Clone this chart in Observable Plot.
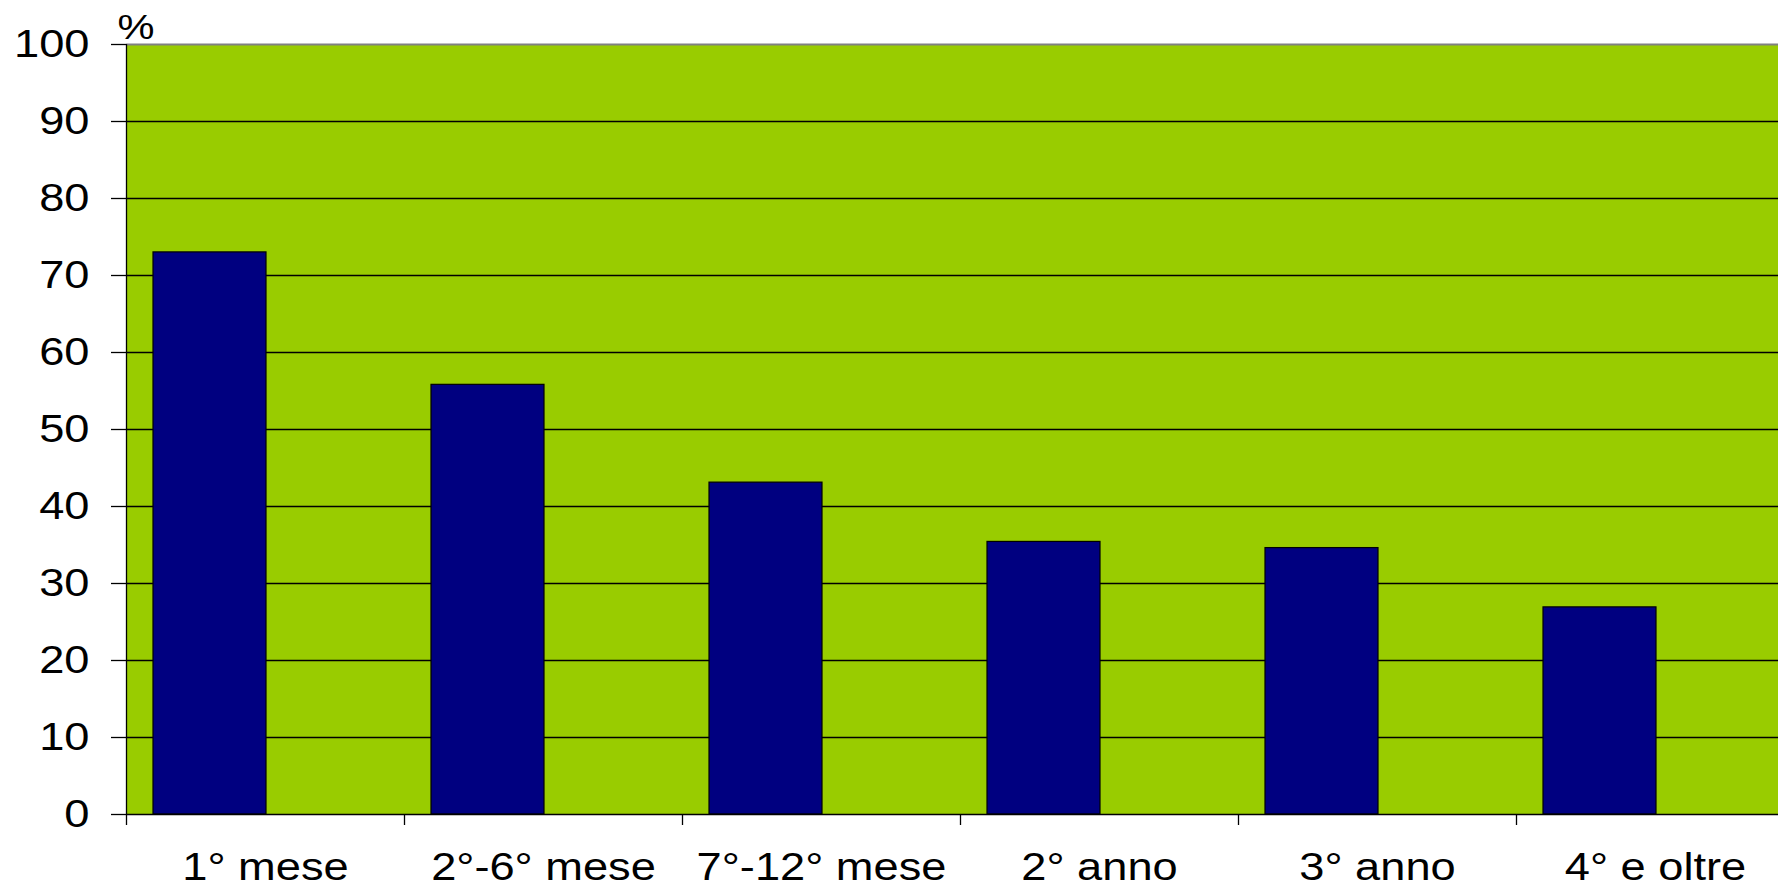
<!DOCTYPE html>
<html>
<head>
<meta charset="utf-8">
<script src="https://cdn.jsdelivr.net/npm/d3@7"></script>
<script src="https://cdn.jsdelivr.net/npm/@observablehq/plot@0.6"></script>
<style>
  html, body { margin: 0; padding: 0; background: #fff; overflow: hidden; }
  #chart svg { display: block; max-width: none; }
</style>
</head>
<body>
<div id="chart"></div>
<script>
const categories = ["1° mese", "2°-6° mese", "7°-12° mese", "2° anno", "3° anno", "4° e oltre"];
const values = [73.0, 55.8, 43.1, 35.4, 34.6, 26.9];
const yTicks = [0, 10, 20, 30, 40, 50, 60, 70, 80, 90, 100];
const yUnit = "%";

const data = categories.map((c, i) => ({cat: c, value: values[i]}));
const band = (1794 - 126) / categories.length;

const chart = Plot.plot({
  width: 1778,
  height: 887,
  marginTop: 44,
  marginBottom: 73,
  marginLeft: 126,
  marginRight: 0,
  x: {type: "band", domain: categories, range: [126, 1794], paddingInner: 0, paddingOuter: 0},
  y: {domain: [0, 100]},
  style: {fontFamily: "'Liberation Sans', Arial, sans-serif", fontSize: "38px", color: "#000", background: "#fff", overflow: "hidden"},
  marks: [
    Plot.frame({fill: "#99CC00", stroke: null}),
    Plot.ruleY(yTicks.filter(d => d > 0 && d < 100), {stroke: "#000", strokeWidth: 1.3}),
    Plot.ruleY([100], {stroke: "#808080", strokeWidth: 2}),
    Plot.barY(data, {x: "cat", y: "value", fill: "#000080", stroke: "#000", strokeWidth: 1.2, insetLeft: 27, insetRight: 138}),
    Plot.ruleY([0], {stroke: "#000", strokeWidth: 1.3}),
    Plot.ruleX([categories[0]], {dx: -band / 2, stroke: "#000", strokeWidth: 1.3}),
    Plot.axisY({ticks: yTicks, tickSize: 15, tickPadding: 22, label: null, stroke: "#000", strokeWidth: 1.3, fontSize: 38, className: "stretch"}),
    Plot.axisX({ticks: categories, tickSize: 11, tickFormat: () => "", dx: -band / 2, label: null, stroke: "#000", strokeWidth: 1.3}),
    Plot.text(categories, {x: d => d, frameAnchor: "bottom", dy: 53, lineAnchor: "middle", fontSize: 38, className: "stretch"}),
    Plot.text([yUnit], {frameAnchor: "top-left", dx: -9, dy: -17, textAnchor: "start", lineAnchor: "middle", fontSize: 35, className: "stretch"})
  ]
});

document.getElementById("chart").appendChild(chart);

// Reference text is horizontally stretched; widen glyphs accordingly
const k = 1.19;
chart.querySelectorAll("g.stretch text, g[aria-label='text'] text").forEach(t => {
  const w = t.getComputedTextLength();
  if (w > 0) {
    t.setAttribute("textLength", (w * k).toFixed(1));
    t.setAttribute("lengthAdjust", "spacingAndGlyphs");
  }
});
</script>
</body>
</html>
